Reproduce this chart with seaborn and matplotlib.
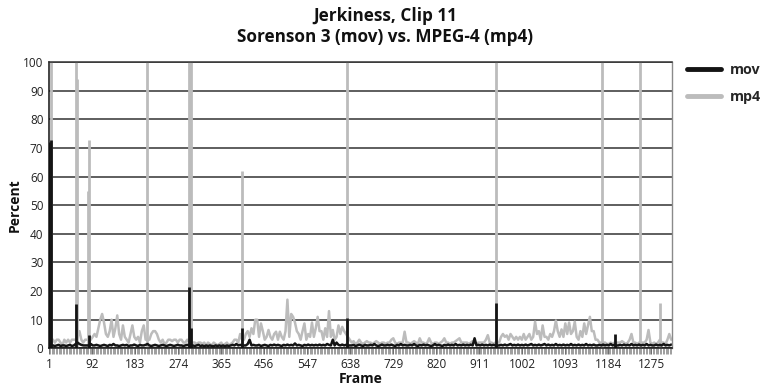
import numpy as np
import pandas as pd
import matplotlib
matplotlib.use("Agg")
import matplotlib.pyplot as plt
import seaborn as sns
from matplotlib.ticker import MultipleLocator
from matplotlib.lines import Line2D

# ---------------- data ----------------
title_lines = ["Jerkiness, Clip 11", "Sorenson 3 (mov) vs. MPEG-4 (mp4)"]
series_names = ["mov", "mp4"]
x_label = "Frame"
y_label = "Percent"
tick_frames = [1, 92, 183, 274, 365, 456, 547, 638, 729, 820, 911, 1002, 1093, 1184, 1275]
y_ticks = [0, 10, 20, 30, 40, 50, 60, 70, 80, 90, 100]
frame_step = 4  # baseline sampled every 4 frames, starting at frame 1

# mp4 (gray) baseline, one row = 40 frames
mp4 = [
    2, 3, 3, 2, 3, 3, 2, 1, 3, 2,
    3, 2, 3, 3, 3, 4, 6, 3, 2, 3,
    3, 3, 3, 4, 5, 4, 7, 10, 12, 9,
    5, 4, 6, 10, 4, 7, 11.5, 5, 3, 8,
    4, 3, 2, 5, 8, 4, 3, 4, 2, 6,
    8, 3, 3, 3, 5, 6, 6, 5, 3, 2,
    3, 1.5, 2, 3, 3, 2.5, 3, 3, 2, 3,
    3, 2, 2, 3, 2, 2, 2, 2, 1.5, 2,
    2, 1.5, 2, 1, 2, 1.5, 1, 2, 1.5, 1,
    1.5, 2, 1, 1.5, 2, 1, 1.5, 2, 3, 3,
    2, 5, 3, 3, 5, 6, 4, 7, 5, 10,
    10, 4, 8.7, 6, 3, 4, 6.4, 4, 3, 5,
    5.8, 3, 5.8, 4, 3, 6, 17, 4, 12, 11,
    9, 6, 5, 3, 6, 8.7, 3, 5, 4, 9,
    4, 7, 11, 6, 6, 3, 7, 4, 13, 4,
    6.4, 3, 4, 8, 5, 7.5, 6, 5, 4, 3,
    2, 2.5, 1.5, 2, 3, 2, 1.5, 2, 2.5, 2,
    2, 1.5, 2, 2.5, 2, 1.5, 2, 2, 1.5, 2,
    2, 3, 3.5, 2, 1.5, 2, 2, 2, 5.8, 2,
    2, 1.5, 2, 2.5, 2, 1.5, 3.5, 2, 2, 1.5,
    2, 3.5, 2, 1.5, 2, 2, 1.5, 2, 2.5, 3.5,
    2, 2, 1.5, 2, 2, 2.5, 3, 3.5, 2, 2,
    2, 2, 1.5, 2, 2.5, 2, 1.5, 2, 2, 2,
    2, 3, 4.6, 2, 2, 1.5, 2, 2, 2, 4,
    5, 4, 4.5, 3, 5, 4, 3, 4, 3, 4,
    3, 5, 3, 4, 5, 3, 4, 9.3, 5, 6,
    3, 8, 4, 4, 3, 5, 4, 6, 9.7, 6,
    4, 6.6, 4, 8.7, 5, 9, 5, 6, 9.3, 4,
    3, 6, 4, 8.7, 5, 8, 11, 6, 6, 3,
    3, 2, 2, 2, 2, 1.5, 1.5, 2, 1.5, 2,
    2, 2, 2, 2.5, 2, 1.5, 2, 3, 5, 2,
    2, 1.5, 2, 2, 2, 2, 3, 6.4, 2, 1.5,
    2, 1.5, 2, 3, 2, 2, 1.5, 3, 5, 3,
]

# mov (black) baseline
mov = [
    1, 1, 1, 0.8, 1, 1.2, 0.8, 1, 1, 0.8,
    1, 1.2, 0.8, 1, 1.5, 2, 1.5, 1.2, 1, 1,
    1, 1, 1.5, 1, 1, 1.2, 1, 0.8, 1, 1.2,
    1, 0.8, 1.2, 1, 1.5, 1, 1, 0.8, 1, 1.2,
    1, 1.2, 0.8, 1, 1, 1.3, 1, 0.8, 1.2, 1,
    1, 1.2, 1.5, 1, 0.8, 1, 1.2, 1, 0.8, 1,
    1.2, 1, 0.8, 1, 1.2, 1, 0.8, 1, 1.2, 1,
    1, 0.8, 1, 1.2, 1, 1, 1, 0.8, 1, 1.2,
    0.8, 1, 0.7, 1, 0.8, 1, 0.8, 0.7, 1, 0.8,
    1, 0.8, 1, 0.7, 1, 0.8, 1, 1.2, 1, 1.5,
    1, 1.2, 1, 1, 1, 1.5, 3, 1, 1.2, 1,
    1, 1.2, 0.8, 1, 1.2, 1, 0.8, 1.2, 1, 1.3,
    1, 1.2, 1, 0.8, 1.2, 1, 1.3, 1, 1.2, 1,
    1.7, 1, 1.2, 1, 0.8, 1.2, 1, 1.3, 1, 1.2,
    1, 1.2, 1, 1.3, 1, 1.2, 1, 1.5, 1.2, 1,
    3, 1, 2, 1.2, 1, 1.3, 1, 1.2, 1, 1,
    1, 1.2, 0.8, 1, 1.3, 1, 0.8, 1.2, 1, 1,
    1.2, 1, 1.5, 1, 0.8, 1, 1.3, 1, 1, 1.2,
    1, 1.3, 1, 0.8, 1.2, 1, 1.5, 1, 1.2, 1,
    1, 1.2, 1, 1.5, 1, 0.8, 1.2, 1, 1.3, 1,
    1.2, 1, 0.8, 1, 1.5, 1, 1.2, 1, 0.8, 1.2,
    1, 1.3, 1, 1.2, 1, 1.5, 1, 1.2, 1, 1.3,
    1, 1.2, 1, 1.3, 1, 3.5, 1, 1.2, 1, 1.3,
    1, 1.2, 1, 1.3, 1, 1.2, 1, 1, 1, 1.2,
    1, 1.3, 1, 1.2, 1.5, 1, 1.2, 1, 1.3, 1,
    1.2, 1, 1.3, 1, 1.2, 1.5, 1, 1.2, 1, 1.3,
    1, 1.2, 1.5, 1, 1.3, 1, 1.2, 1, 1.5, 1,
    1.2, 1, 1.3, 1, 1.2, 1, 1.5, 1, 1.2, 1,
    1.3, 1, 1.2, 1, 1.5, 1, 1.2, 1, 1.3, 1,
    1, 1.2, 1, 1.3, 1, 1.2, 1, 1.5, 1, 1.2,
    1, 1, 1.2, 1, 1.3, 1, 1.2, 1, 1.5, 1,
    1.2, 1, 1.3, 1, 1.2, 1, 1.5, 1, 1.2, 1,
    1, 1.3, 1, 1.2, 1, 1.5, 1, 1.2, 1, 1.3,
]

# single-frame spikes
mp4_spike_frames = [5, 57, 60, 83, 86, 208, 297, 300, 409, 632, 947, 1170, 1251, 1294]
mp4_spike_values = [100, 100, 94, 55, 73, 100, 100, 100, 62, 100, 100, 100, 100, 16]
mov_spike_frames = [1, 5, 57, 85, 297, 301, 409, 632, 947, 1198]
mov_spike_values = [72, 73, 15.5, 4.6, 21.5, 7, 7, 10.5, 16, 5]

frames = 1 + frame_step * np.arange(len(mp4))
df = pd.DataFrame({"Frame": np.concatenate([frames, frames]),
                   "Percent": np.concatenate([mp4, mov]),
                   "Format": ["mp4"] * len(mp4) + ["mov"] * len(mov)})
spikes = pd.DataFrame({"Frame": mp4_spike_frames + mov_spike_frames,
                       "Percent": mp4_spike_values + mov_spike_values,
                       "Format": ["mp4"] * len(mp4_spike_frames) + ["mov"] * len(mov_spike_frames)})

# ---------------- style ----------------
sns.set_theme(style="white")
plt.rcParams["font.family"] = ["Open Sans", "DejaVu Sans"]

colors = {"mov": "#141414", "mp4": "#bcbcbc"}

fig = plt.figure(figsize=(7.65, 3.92), dpi=100)
ax = fig.add_axes([0.064, 0.1115, 0.814, 0.7296])

for name in ["mp4", "mov"]:
    sub = df[df["Format"] == name]
    sns.lineplot(data=sub, x="Frame", y="Percent", ax=ax, color=colors[name],
                 lw=1.8, estimator=None, sort=False, legend=False)
    sp = spikes[spikes["Format"] == name]
    ax.vlines(sp["Frame"], 0, sp["Percent"], color=colors[name], lw=2.0)

ax.set_xlim(0.5, 1318)
ax.set_ylim(0, 100)
ax.set_yticks(y_ticks)
ax.set_xticks(tick_frames)
ax.set_xticklabels([str(t) for t in tick_frames])
ax.xaxis.set_minor_locator(MultipleLocator(3))

ax.yaxis.grid(True, color="#333333", lw=1.1)
ax.xaxis.grid(False)
ax.set_axisbelow(True)

for s in ["left", "bottom"]:
    ax.spines[s].set_color("#111111")
    ax.spines[s].set_linewidth(1.1)
ax.spines["top"].set_color("#333333")
ax.spines["top"].set_linewidth(1.1)
ax.spines["right"].set_color("#8a8a8a")
ax.spines["right"].set_linewidth(1.0)

ax.tick_params(axis="y", which="both", length=0, pad=4, labelsize=8.5, labelcolor="#222222")
ax.tick_params(axis="x", which="major", length=4, width=0.6, color="#555555",
               direction="out", pad=3, labelsize=8.5, labelcolor="#222222", bottom=True)
ax.tick_params(axis="x", which="minor", length=4, width=0.5, color="#777777",
               direction="out", bottom=True)

ax.set_xlabel(x_label, fontsize=10, fontweight="bold", labelpad=1, color="#111111")
ax.set_ylabel(y_label, fontsize=10, fontweight="bold", labelpad=1, color="#111111")

handles = [Line2D([], [], color=colors[n], lw=3.5) for n in series_names]
leg = ax.legend(handles, series_names, loc="upper left", bbox_to_anchor=(1.024, 0.998),
                frameon=False, handlelength=2.4, labelspacing=0.9, handletextpad=0.6,
                borderpad=0, borderaxespad=0, prop={"weight": "bold", "size": 10.3})

fig.text(0.503, 0.982, "\n".join(title_lines), ha="center", va="top",
         fontsize=12.3, fontweight="bold", color="#111111", linespacing=1.2)

fig.savefig("out.png", dpi=100)
